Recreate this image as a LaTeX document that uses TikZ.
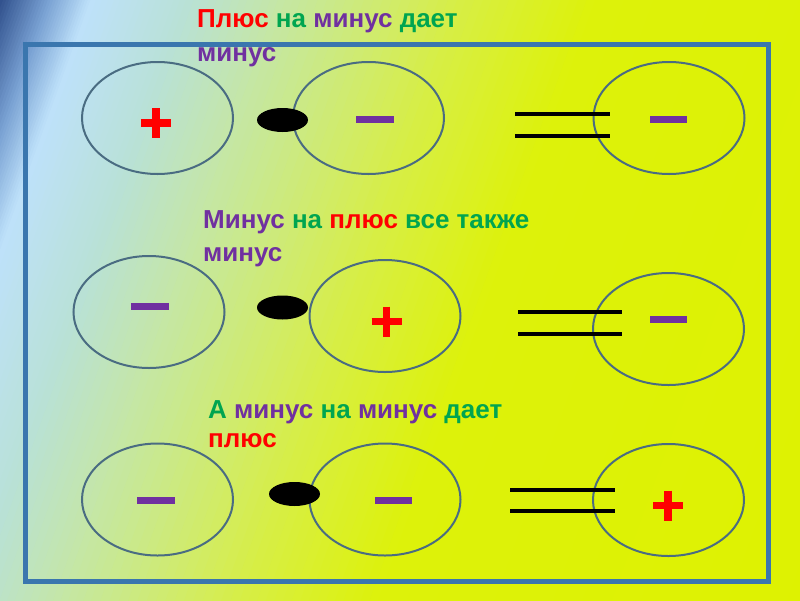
\documentclass[tikz,border=0pt]{standalone}
\usepackage{fontspec}
\setmainfont{Liberation Sans}
\usetikzlibrary{shapes.geometric}
\definecolor{redc}{RGB}{255,0,0}
\definecolor{greenc}{RGB}{0,165,80}
\definecolor{purplec}{RGB}{112,48,160}
\definecolor{framec}{RGB}{58,118,174}
\definecolor{ellc}{RGB}{74,108,130}
\definecolor{g0}{RGB}{48,80,140}
\definecolor{g1}{RGB}{120,160,210}
\definecolor{g2}{RGB}{190,225,250}
\definecolor{g3}{RGB}{185,225,215}
\definecolor{g4}{RGB}{200,232,150}
\definecolor{g5}{RGB}{215,238,70}
\definecolor{g6}{RGB}{221,242,10}
\definecolor{g7}{RGB}{222,242,0}
\begin{document}
\begin{tikzpicture}[x=1pt,y=-1pt,
  atom/.style={ellipse, draw=ellc, line width=2pt, minimum width=151pt, minimum height=112pt, inner sep=0pt},
  blob/.style={ellipse, fill=black, minimum width=51pt, minimum height=24pt, inner sep=0pt},
  lbl/.style={anchor=base west, inner sep=0pt, font=\fontsize{26}{30}\selectfont\bfseries},
  eqline/.style={line width=4.5pt, black},
  plussign/.style={redc, line width=7.5pt},
  minussign/.style={fill=purplec},
]
\useasboundingbox (0,0) rectangle (800,600);
\begin{scope}
\clip (0,0) rectangle (800,600);
\foreach \ta/\tb/\ca/\cb in {0/45/g0/g1, 45/85/g1/g2, 85/175/g2/g3, 175/290/g3/g4, 290/430/g4/g5, 430/560/g5/g6, 560/1000/g6/g7}{
  \foreach \i in {0,...,15}{
    \pgfmathsetmacro\tone{\ta+(\tb-\ta)*\i/16}
    \pgfmathsetmacro\ttwo{\ta+(\tb-\ta)*(\i+1)/16+1.5}
    \pgfmathtruncatemacro\pc{100*(\i+0.5)/16}
    \fill[\cb!\pc!\ca] ({0.94*\tone+340},{0.34*\tone-940}) -- ({0.94*\ttwo+340},{0.34*\ttwo-940}) -- ({0.94*\ttwo-340},{0.34*\ttwo+940}) -- ({0.94*\tone-340},{0.34*\tone+940}) -- cycle;
  }
}
\end{scope}
% frame
\draw[framec, line width=5pt] (25,44) rectangle (768,581);
% texts
\node[lbl] (t1a) at (197,27) {\textcolor{redc}{Плюс} \textcolor{greenc}{на} \textcolor{purplec}{минус} \textcolor{greenc}{дает}};
\node[lbl] (t1b) at (197,61) {\textcolor{purplec}{минус}};
\node[lbl] (t2a) at (203,228) {\textcolor{purplec}{Минус} \textcolor{greenc}{на} \textcolor{redc}{плюс} \textcolor{greenc}{все также}};
\node[lbl] (t2b) at (203,261) {\textcolor{purplec}{минус}};
\node[lbl] (t3a) at (208,418) {\textcolor{greenc}{А} \textcolor{purplec}{минус} \textcolor{greenc}{на} \textcolor{purplec}{минус} \textcolor{greenc}{дает}};
\node[lbl] (t3b) at (208,447) {\textcolor{redc}{плюс}};
% ellipses
\node[atom] (a1) at (157.5,118) {};
\node[atom] (a2) at (368.5,118) {};
\node[atom] (a3) at (669,118) {};
\node[atom] (b1) at (149,312) {};
\node[atom] (b2) at (385,316) {};
\node[atom] (b3) at (668.5,329) {};
\node[atom] (c1) at (157.5,499.5) {};
\node[atom] (c2) at (385,499.5) {};
\node[atom] (c3) at (668.5,500) {};
% multiplication dots
\node[blob] (m1) at (282.5,120) {};
\node[blob] (m2) at (282.5,307.5) {};
\node[blob] (m3) at (294.5,494) {};
% equals
\draw[eqline] (515,114) -- (610,114);
\draw[eqline] (515,136) -- (610,136);
\draw[eqline] (518,312) -- (622,312);
\draw[eqline] (518,334) -- (622,334);
\draw[eqline] (510,490) -- (615,490);
\draw[eqline] (510,511) -- (615,511);
% signs
\draw[plussign] (141,123) -- (171,123) (156,108) -- (156,138);
\draw[plussign] (371.5,321.5) -- (401.5,321.5) (386.5,306.5) -- (386.5,336.5);
\draw[plussign] (653,505.5) -- (683,505.5) (668,490.5) -- (668,520.5);
\fill[minussign] (356,115.5) rectangle (394,122.5);
\fill[minussign] (650,115.5) rectangle (687,122.5);
\fill[minussign] (131,302.5) rectangle (169,309.5);
\fill[minussign] (650,315.5) rectangle (687,322.5);
\fill[minussign] (137,496.5) rectangle (175,503.5);
\fill[minussign] (375,496.5) rectangle (412,503.5);
\end{tikzpicture}
\end{document}
